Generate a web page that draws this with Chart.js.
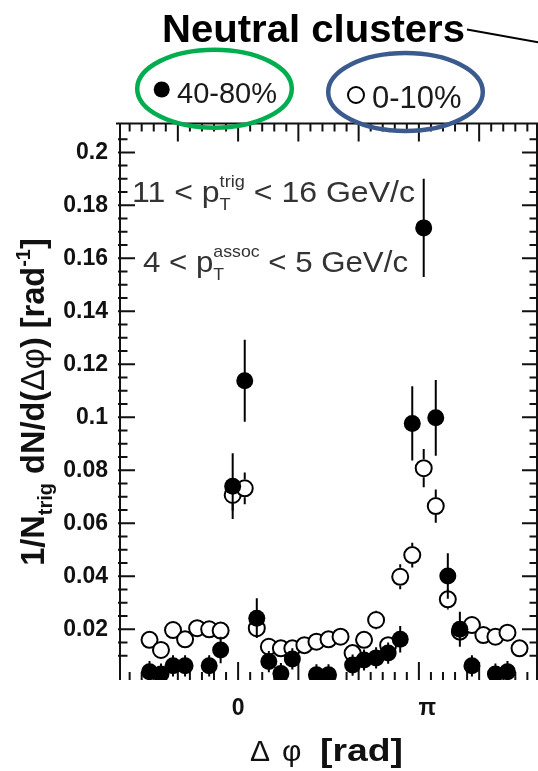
<!DOCTYPE html>
<html><head><meta charset="utf-8">
<script src="https://cdn.jsdelivr.net/npm/chart.js@4/dist/chart.umd.min.js"></script>
<style>html,body{margin:0;padding:0;background:#fff;}canvas{display:block}</style>
</head><body>
<canvas id="c" width="538" height="771"></canvas>
<script>
// ---- data ----
const dphi = [-1.47, -1.28, -1.08, -0.88, -0.68, -0.48, -0.29, -0.09, 0.11, 0.31, 0.51, 0.71, 0.90, 1.10, 1.30, 1.50,
              1.70, 1.90, 2.09, 2.29, 2.49, 2.69, 2.89, 3.08, 3.28, 3.48, 3.68, 3.88, 4.07, 4.27, 4.47, 4.67];
const yieldPeripheral = [0.0040, 0.0031, 0.0062, 0.0062, null, 0.0062, 0.0122, 0.0740, 0.1138, 0.0242, 0.0078, 0.0033, 0.0088, null, 0.0028, 0.0028,
                         null, 0.0065, 0.0084, 0.0092, 0.0110, 0.0162, 0.0977, 0.1715, 0.0998, 0.0401, 0.0200, 0.0062, null, 0.0031, 0.0040, null];
const errPeripheral   = [0.004, 0.004, 0.004, 0.004, 0, 0.004, 0.005, 0.0124, 0.0155, 0.0075, 0.004, 0.004, 0.004, 0, 0.004, 0.004,
                         0, 0.004, 0.004, 0.004, 0.004, 0.005, 0.014, 0.0185, 0.0143, 0.0086, 0.0066, 0.004, 0, 0.004, 0.004, 0];
const yieldCentral = [0.0160, 0.0122, 0.0197, 0.0162, 0.0204, 0.0200, 0.0195, 0.0707, 0.0732, 0.0204, 0.0134, 0.0128, 0.0128, 0.0140, 0.0153, 0.0162,
                      0.0172, 0.0110, 0.0160, 0.0235, 0.0140, 0.0398, 0.0480, 0.0808, 0.0665, 0.0313, 0.0191, 0.0216, 0.0178, 0.0172, 0.0187, 0.0128];
const errCentral   = [0.002, 0.002, 0.002, 0.002, 0.002, 0.002, 0.002, 0.006, 0.006, 0.002, 0.002, 0.002, 0.002, 0.002, 0.002, 0.002,
                      0.002, 0.002, 0.002, 0.0035, 0.002, 0.0047, 0.0047, 0.0072, 0.0063, 0.0038, 0.003, 0.003, 0.002, 0.002, 0.002, 0.002];
const seriesLabels = ['40-80%', '0-10%'];
const xTickValues = [0, Math.PI];
const xTickLabels = ['0', 'π'];
const xRange = [-1.96, 4.96];
const yRange = [0.00085, 0.2109];
const yMajorStep = 0.02, yMinorStep = 0.005;
const xMajorStep = 1, xMinorStep = 0.2;
const titleText = 'Neutral clusters';

const F = "'Liberation Sans', Arial, sans-serif";
const INK = '#111';

function isMult(v, step) { const q = v / step; return Math.abs(q - Math.round(q)) < 1e-6; }

function segWidth(ctx, s) {
  const parts = s.stack || [s]; let m = 0;
  for (const p of parts) { ctx.font = p.f; m = Math.max(m, ctx.measureText(p.t).width); }
  return m;
}
function richWidth(ctx, segs) { return segs.reduce((w, s) => w + segWidth(ctx, s), 0); }
function drawRich(ctx, x, y, segs, sx) {
  ctx.save(); ctx.translate(x, y); ctx.scale(sx || 1, 1);
  ctx.textAlign = 'left'; ctx.textBaseline = 'alphabetic';
  let cx = 0;
  for (const s of segs) {
    const parts = s.stack || [s];
    for (const p of parts) { ctx.font = p.f; ctx.fillText(p.t, cx, p.dy || 0); }
    cx += segWidth(ctx, s);
  }
  ctx.restore();
}

const decor = {
  id: 'decor',
  beforeDatasetsDraw(chart) {
    const {ctx, chartArea: a, scales: {x, y}} = chart;
    ctx.save();
    ctx.strokeStyle = INK; ctx.lineWidth = 2; ctx.lineCap = 'butt';
    ctx.beginPath();
    ctx.moveTo(a.left, a.bottom); ctx.lineTo(a.left, a.top);
    ctx.moveTo(a.left - 4, a.top); ctx.lineTo(a.right + 2, a.top);
    ctx.moveTo(a.right, a.top); ctx.lineTo(a.right, a.bottom);
    // y ticks (inward, both sides)
    y.ticks.forEach(t => {
      if (!isMult(t.value, yMinorStep)) return;
      const len = isMult(t.value, yMajorStep) ? 15 : 7.5;
      const py = y.getPixelForValue(t.value);
      ctx.moveTo(a.left - 2, py); ctx.lineTo(a.left + len, py);
      ctx.moveTo(a.right, py); ctx.lineTo(a.right - len, py);
    });
    // x ticks (inward, top and bottom)
    const k0 = Math.ceil(x.min / xMinorStep), k1 = Math.floor(x.max / xMinorStep);
    for (let k = k0; k <= k1; k++) {
      const v = k * xMinorStep;
      const len = isMult(v, xMajorStep) ? 18 : 8;
      const px = x.getPixelForValue(v);
      ctx.moveTo(px, a.top); ctx.lineTo(px, a.top + len);
      ctx.moveTo(px, a.bottom); ctx.lineTo(px, a.bottom - len);
    }
    ctx.stroke();
    ctx.restore();
  },
  afterDatasetsDraw(chart) {
    const {ctx, chartArea: a, scales: {y}} = chart;
    ctx.save();
    ctx.beginPath(); ctx.rect(a.left, a.top, a.right - a.left, a.bottom - a.top); ctx.clip();
    ctx.strokeStyle = '#000'; ctx.lineWidth = 2;
    const sets = [[1, yieldCentral, errCentral, 9], [0, yieldPeripheral, errPeripheral, 0]];
    sets.forEach(([di, vals, errs, gap]) => {
      const meta = chart.getDatasetMeta(di);
      ctx.beginPath();
      vals.forEach((v, i) => {
        if (v == null || !errs[i]) return;
        const pt = meta.data[i];
        const px = pt.x, pc = y.getPixelForValue(v);
        const pt0 = y.getPixelForValue(v + errs[i]), pb = y.getPixelForValue(v - errs[i]);
        if (gap === 0) { ctx.moveTo(px, pt0); ctx.lineTo(px, pb); }
        else {
          if (pc - gap > pt0) { ctx.moveTo(px, pt0); ctx.lineTo(px, pc - gap); }
          if (pc + gap < pb) { ctx.moveTo(px, pc + gap); ctx.lineTo(px, pb); }
        }
      });
      ctx.stroke();
    });
    ctx.restore();
  },
  afterDraw(chart) {
    const {ctx} = chart;
    const ds = chart.data.datasets;
    ctx.save();
    // title
    ctx.fillStyle = '#000';
    ctx.font = `bold 38px ${F}`;
    const tw = ctx.measureText(titleText).width;
    ctx.save(); ctx.translate(162, 41.5); ctx.scale(303 / tw, 1); ctx.textAlign = 'left'; ctx.fillText(titleText, 0, 0); ctx.restore();
    ctx.strokeStyle = '#000'; ctx.lineWidth = 2;
    ctx.beginPath(); ctx.moveTo(467, 29.5); ctx.lineTo(540, 42.5); ctx.stroke();

    // legend entries
    ctx.fillStyle = ds[0].pointBackgroundColor;
    ctx.beginPath(); ctx.arc(161.7, 89.5, 8, 0, Math.PI * 2); ctx.fill();
    ctx.fillStyle = ds[1].pointBackgroundColor; ctx.strokeStyle = ds[1].pointBorderColor; ctx.lineWidth = 2;
    ctx.beginPath(); ctx.arc(356, 95, 8, 0, Math.PI * 2); ctx.fill(); ctx.stroke();
    ctx.fillStyle = '#1a1a1a'; ctx.textAlign = 'left'; ctx.textBaseline = 'alphabetic';
    ctx.font = `29px ${F}`; ctx.fillText(seriesLabels[0], 177, 103.3);
    ctx.font = `31px ${F}`; ctx.fillText(seriesLabels[1], 372, 108.3);
    // ellipses
    ctx.lineWidth = 4.5;
    ctx.strokeStyle = '#00ad4f';
    ctx.beginPath(); ctx.ellipse(214.5, 88.7, 77.3, 39, 0, 0, Math.PI * 2); ctx.stroke();
    ctx.strokeStyle = '#3b5b8e';
    ctx.beginPath(); ctx.ellipse(405.5, 92, 77.3, 39, 0, 0, Math.PI * 2); ctx.stroke();

    // kinematic annotation
    ctx.fillStyle = '#333';
    const big = `30px ${F}`, sm = `17px ${F}`;
    const l1 = [{t: '11 < p', f: big}, {stack: [{t: 'T', f: sm, dy: 8}, {t: 'trig', f: sm, dy: -15}]}, {t: ' < 16 GeV/c', f: big}];
    const l2 = [{t: '4 < p', f: big}, {stack: [{t: 'T', f: sm, dy: 8}, {t: 'assoc', f: sm, dy: -15}]}, {t: ' < 5 GeV/c', f: big}];
    drawRich(ctx, 132, 202, l1, 283 / richWidth(ctx, l1));
    drawRich(ctx, 143, 272, l2, 265 / richWidth(ctx, l2));

    // y-axis title (rotated)
    ctx.fillStyle = INK;
    const yb = `bold 32.5px ${F}`, ys = `bold 20px ${F}`, yn = `32.5px ${F}`;
    const yt = [{t: '1/N', f: yb}, {t: 'trig', f: ys, dy: 8}, {t: ' dN/d(', f: yb}, {t: 'Δφ', f: yn}, {t: ') [rad', f: yb},
                {t: '-1', f: ys, dy: -14}, {t: ']', f: yb}];
    const ytw = richWidth(ctx, yt);
    ctx.save(); ctx.translate(44, 402); ctx.rotate(-Math.PI / 2);
    drawRich(ctx, -ytw / 2, 0, yt, 1);
    ctx.restore();

    // x-axis title
    ctx.fillStyle = INK;
    ctx.font = `30px ${F}`; ctx.textAlign = 'left';
    ctx.fillText('Δ', 250, 761); ctx.fillText('φ', 282, 761);
    ctx.font = `bold 32px ${F}`;
    const rw = ctx.measureText('[rad]').width;
    ctx.save(); ctx.translate(320, 761); ctx.scale(83 / rw, 1); ctx.fillText('[rad]', 0, 0); ctx.restore();
    ctx.restore();
  }
};

new Chart(document.getElementById('c'), {
  type: 'scatter',
  data: {
    datasets: [
      { label: seriesLabels[0], data: dphi.map((x, i) => ({x, y: yieldPeripheral[i]})),
        pointStyle: 'circle', pointRadius: 8.5, pointBackgroundColor: '#000', pointBorderColor: '#000', pointBorderWidth: 0,
        showLine: false, clip: 0 },
      { label: seriesLabels[1], data: dphi.map((x, i) => ({x, y: yieldCentral[i]})),
        pointStyle: 'circle', pointRadius: 8, pointBackgroundColor: '#fff', pointBorderColor: '#000', pointBorderWidth: 2,
        showLine: false, clip: 0 }
    ]
  },
  options: {
    responsive: false, animation: false, events: [],
    layout: { autoPadding: false, padding: { top: 123.5, right: 1, bottom: 0, left: 0 } },
    plugins: { legend: { display: false }, tooltip: { enabled: false }, title: { display: false } },
    scales: {
      x: {
        type: 'linear', position: 'bottom', min: xRange[0], max: xRange[1],
        grid: { display: false, drawTicks: false }, border: { display: false },
        afterBuildTicks: (s) => { s.ticks = xTickValues.map(v => ({ value: v })); },
        afterFit: (s) => { s.height = 91; s.paddingLeft = 0; s.paddingRight = 0; },
        ticks: { autoSkip: false, maxRotation: 0, padding: 15, color: INK, font: { family: F, size: 23, weight: 'bold' },
                 callback: (v, i) => xTickLabels[i] }
      },
      y: {
        type: 'linear', position: 'left', min: yRange[0], max: yRange[1],
        grid: { display: false, drawTicks: false }, border: { display: false },
        afterFit: (s) => { s.width = 120; s.paddingTop = 0; s.paddingBottom = 0; },
        ticks: { stepSize: yMinorStep, autoSkip: false, maxTicksLimit: 200, padding: 12, color: INK,
                 font: { family: F, size: 23, weight: 'bold' },
                 callback: (v) => (v > 0.01 && isMult(v, yMajorStep)) ? String(+v.toFixed(2)) : '' }
      }
    }
  },
  plugins: [decor]
});
</script>
</body></html>
